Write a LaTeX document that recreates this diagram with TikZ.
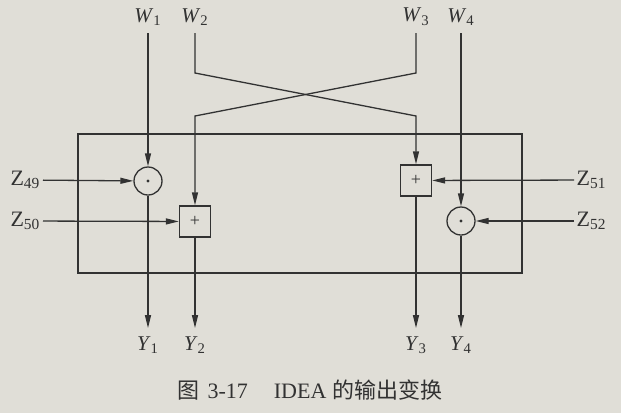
\documentclass[tikz,border=0pt]{standalone}
\usepackage{fontspec}
\setmainfont{Liberation Serif}
\newfontfamily\cjk{Noto Sans CJK SC}
\usetikzlibrary{arrows.meta}

\definecolor{paper}{RGB}{224,222,215}
\definecolor{ink}{RGB}{50,50,50}

\begin{document}
\begin{tikzpicture}[
  x=0.5pt, y=-0.5pt,
  line width=0.65pt,
  color=ink,
  io/.style     = {font=\fontsize{10.5}{12}\selectfont,
                   inner xsep=1pt, inner ysep=3.5pt},
  key/.style    = {font=\fontsize{11}{12}\selectfont, inner sep=1pt},
  mulop/.style  = {circle, draw, minimum size=14pt, inner sep=0pt,
                   path picture={\fill (path picture bounding box.center)
                                 circle (0.85pt);}},
  addop/.style  = {rectangle, draw, minimum size=15.5pt, inner sep=0pt,
                   font=\fontsize{9}{9}\selectfont},
  arr/.style    = {-{Triangle[length=6.5pt,width=3pt]}},
  frame/.style  = {draw, line width=0.7pt},
]

% =============================================================
% Page and frame
% =============================================================
\fill[paper] (0,0) rectangle (621,413);
\draw[frame] (78,134) rectangle (522,273);

% =============================================================
% Inputs W (top) and outputs Y (bottom)
% =============================================================
\node[io, anchor=south] (w1) at (148,33) {\textit{W}\textsubscript{1}};
\node[io, anchor=south] (w2) at (195,33) {\textit{W}\textsubscript{2}};
\node[io, anchor=south] (w3) at (416,33) {\textit{W}\textsubscript{3}};
\node[io, anchor=south] (w4) at (461,33) {\textit{W}\textsubscript{4}};

\node[io, anchor=north, inner ysep=4pt] (y1) at (148,328) {\textit{Y}\textsubscript{1}};
\node[io, anchor=north, inner ysep=4pt] (y2) at (195,328) {\textit{Y}\textsubscript{2}};
\node[io, anchor=north, inner ysep=4pt] (y3) at (416,328) {\textit{Y}\textsubscript{3}};
\node[io, anchor=north, inner ysep=4pt] (y4) at (461,328) {\textit{Y}\textsubscript{4}};

% =============================================================
% Operations inside the frame
% =============================================================
\node[mulop] (m1) at (148,181) {};
\node[addop] (a2) at (195,221.5) {+};
\node[addop] (a3) at (416,180.5) {+};
\node[mulop] (m4) at (461,221) {};

% --- subkeys ---
\node[key, anchor=east] (z49) at (43,180)  {Z\textsubscript{49}};
\node[key, anchor=east] (z50) at (43,221)  {Z\textsubscript{50}};
\node[key, anchor=west] (z51) at (574,180) {Z\textsubscript{51}};
\node[key, anchor=west] (z52) at (574,221) {Z\textsubscript{52}};

% bends of the crossing W2 / W3
\coordinate (b2) at (195,73);
\coordinate (c2) at (416,116);
\coordinate (b3) at (416,73);
\coordinate (c3) at (195,116);

% =============================================================
% Connectors
% =============================================================
\draw[arr] (w1) -- (m1);
\draw[arr] (w2) -- (b2) -- (c2) -- (a3);
\draw[arr] (w3) -- (b3) -- (c3) -- (a2);
\draw[arr] (w4) -- (m4);

\draw[arr] (z49) -- (m1);
\draw[arr] (z50) -- (a2);
\draw[arr] (z51) -- (a3);
\draw[arr] (z52) -- (m4);

\draw[arr] (m1) -- (y1);
\draw[arr] (a2) -- (y2);
\draw[arr] (a3) -- (y3);
\draw[arr] (m4) -- (y4);

% =============================================================
% Caption
% =============================================================
\node[font=\fontsize{11}{13}\selectfont] (cap) at (310,390)
  {{\cjk 图}\hspace{4pt}3-17\hspace{13pt}IDEA\hspace{3pt}{\cjk 的输出变换}};

\end{tikzpicture}
\end{document}
